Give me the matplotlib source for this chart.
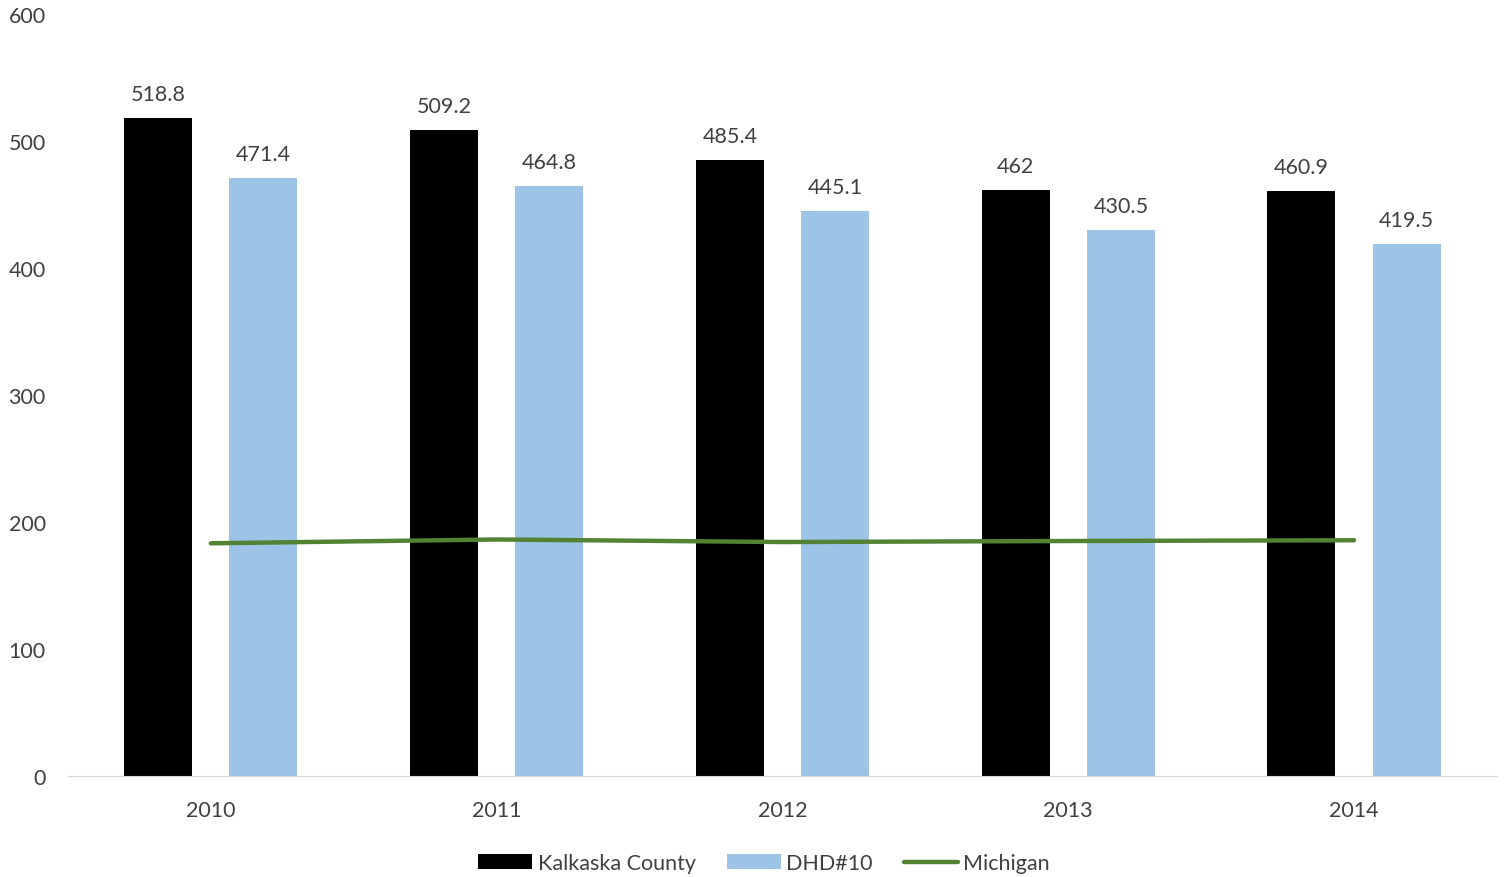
import matplotlib.pyplot as plt
import numpy as np

plt.rcParams['font.family'] = ['Lato', 'DejaVu Sans']

years = ["2010", "2011", "2012", "2013", "2014"]
kalkaska = [518.8, 509.2, 485.4, 462, 460.9]
dhd10 = [471.4, 464.8, 445.1, 430.5, 419.5]
michigan = [183.6, 186.6, 184.6, 185.4, 186.0]

TEXT = "#404040"


def main():
    fig = plt.figure(figsize=(15.04, 8.78), dpi=100)
    ax = fig.add_axes([0.0452, 0.1145, 0.9501, 0.8679])

    x = np.arange(len(years))
    w = 0.238
    off = 0.184
    b1 = ax.bar(x - off, kalkaska, w, color="black", label="Kalkaska County")
    b2 = ax.bar(x + off, dhd10, w, color="#9DC3E6", label="DHD#10")
    ln, = ax.plot(x, michigan, color="#548235", lw=3.2, solid_capstyle="round",
                  label="Michigan")

    for bars, vals in ((b1, kalkaska), (b2, dhd10)):
        for r, v in zip(bars, vals):
            ax.annotate(f"{v:g}", (r.get_x() + r.get_width() / 2, v),
                        xytext=(0, 10), textcoords="offset points",
                        ha="center", va="bottom", fontsize=15.5, color=TEXT)

    ax.set_xlim(-0.5, len(years) - 0.5)
    ax.set_ylim(0, 600)
    ax.set_yticks(range(0, 601, 100))
    ax.set_xticks(x)
    ax.set_xticklabels(years)
    for s in ("left", "right", "top"):
        ax.spines[s].set_visible(False)
    ax.spines["bottom"].set_color("#D9D9D9")
    ax.tick_params(axis="both", length=0, labelsize=15.5, labelcolor=TEXT)
    ax.tick_params(axis="y", pad=16)
    ax.tick_params(axis="x", pad=17)

    fig.legend([b1, b2, ln], ["Kalkaska County", "DHD#10", "Michigan"],
               loc="lower center", bbox_to_anchor=(0.508, -0.018), ncol=3,
               frameon=False, fontsize=15.5, labelcolor=TEXT,
               handlelength=2.5, handletextpad=0.25, columnspacing=1.45)

    plt.savefig("out.png")
    plt.close()


if __name__ == "__main__":
    main()
